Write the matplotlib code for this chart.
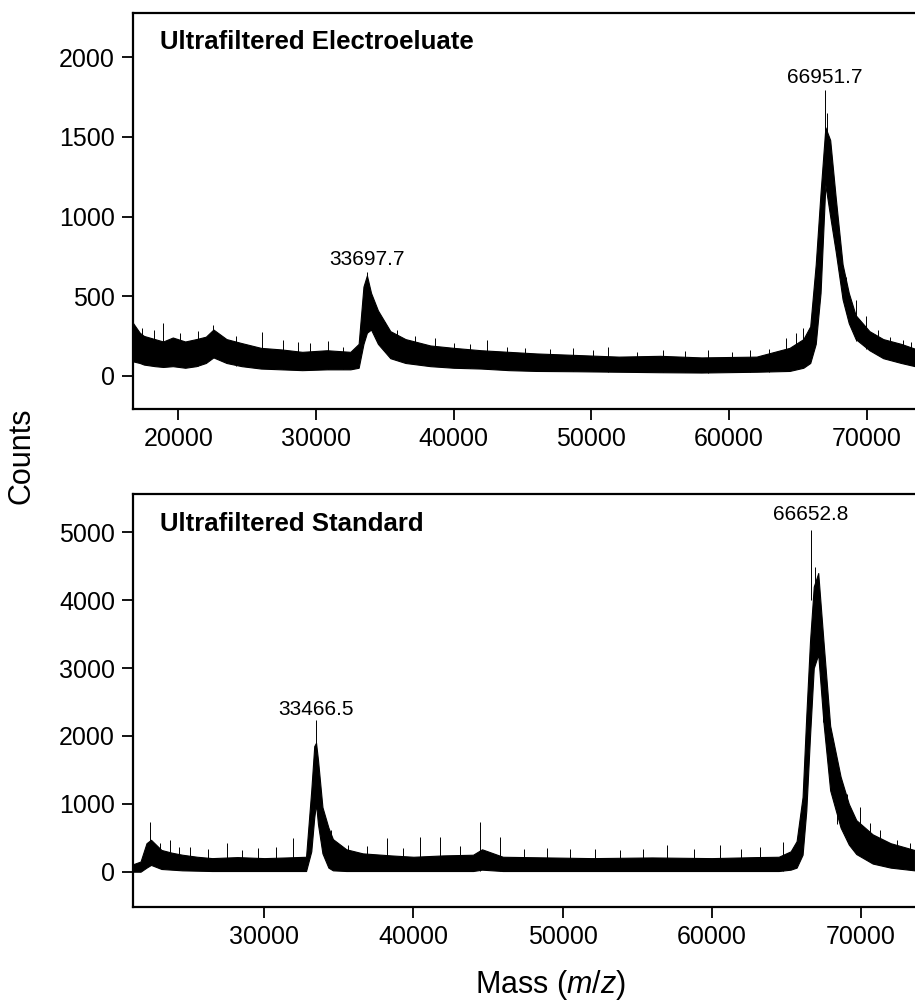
import matplotlib
matplotlib.use("Agg")
import matplotlib.pyplot as plt

plt.rcParams["font.family"] = ["Liberation Sans", "DejaVu Sans"]
plt.rcParams["mathtext.fontset"] = "custom"
plt.rcParams["mathtext.rm"] = "Liberation Sans"
plt.rcParams["mathtext.it"] = "Liberation Sans:italic"

# ---- top panel: ultrafiltered electroeluate (envelope of the noisy trace) ----
top_mass = [16720, 17200, 17500, 18300, 18900, 19600, 20500, 21300, 22000, 22550,
            23500, 24600, 26000, 27500, 29000, 30800, 32500, 33100, 33450, 33700,
            34000, 34500, 35400, 36500, 38300, 40000, 42000, 44000, 46000, 49000,
            52000, 55000, 58000, 62000, 64400, 65400, 65900, 66300, 66650, 67000,
            67350, 67750, 68250, 68700, 69200, 70200, 71200, 72500, 73500]
top_upper = [330, 270, 250, 230, 215, 240, 215, 230, 245, 290,
             230, 205, 175, 165, 150, 160, 150, 200, 560, 630,
             520, 410, 280, 230, 190, 175, 160, 150, 140, 130,
             120, 125, 115, 120, 175, 230, 310, 700, 1150, 1560,
             1480, 1120, 700, 520, 380, 280, 230, 200, 170]
top_lower = [90, 80, 70, 60, 55, 60, 50, 60, 80, 115,
             80, 60, 45, 40, 35, 40, 40, 50, 200, 270,
             290, 200, 110, 80, 60, 50, 45, 35, 30, 28,
             25, 22, 20, 25, 30, 50, 80, 200, 520, 1200,
             1000, 780, 480, 330, 230, 160, 110, 80, 60]
top_spike_mass = [16730, 17400, 18200, 18910, 20100, 21400, 22540, 24200, 26050, 27620,
                  28700, 29560, 30900, 31980, 33700, 35000, 35860, 37200, 38630, 40000,
                  41200, 42390, 43840, 45200, 47000, 48680, 50100, 51220, 53300, 55210,
                  56800, 58480, 60200, 61500, 62900, 64170, 64900, 65380, 66951.7, 67150,
                  68500, 69250, 69980, 70800, 71670, 72630, 73200]
top_spike_lo = [100, 80, 60, 60, 55, 60, 120, 60, 50, 45,
                40, 40, 40, 40, 300, 150, 110, 80, 60, 55,
                50, 45, 40, 35, 30, 30, 28, 25, 25, 25,
                22, 20, 22, 25, 25, 30, 45, 60, 1400, 1300,
                400, 220, 170, 130, 100, 80, 70]
top_spike_hi = [381, 300, 290, 330, 270, 280, 318, 250, 276, 224,
                210, 203, 215, 182, 653, 340, 287, 250, 234, 203,
                200, 224, 182, 175, 165, 174, 160, 182, 150, 160,
                155, 160, 150, 160, 165, 236, 270, 300, 1795, 1650,
                620, 477, 372, 290, 245, 224, 210]

# ---- bottom panel: ultrafiltered standard ----
bot_mass = [21200, 21700, 22100, 22400, 23100, 23800, 24500, 25500, 26500, 28200,
            30000, 31500, 32800, 33150, 33350, 33470, 33600, 33900, 34300, 34600,
            35500, 36600, 38500, 40000, 42000, 44000, 44600, 46000, 49000, 52000,
            56000, 60000, 63000, 64500, 65300, 65700, 66100, 66350, 66600, 66850,
            67150, 67500, 67950, 68650, 69200, 69700, 70800, 72000, 73600]
bot_upper = [110, 150, 420, 470, 320, 280, 250, 220, 200, 215,
             200, 210, 220, 1200, 1850, 1900, 1650, 950, 650, 480,
             330, 270, 240, 220, 240, 250, 330, 220, 210, 200,
             210, 200, 215, 220, 300, 450, 1100, 2300, 3400, 4200,
             4400, 3400, 2150, 1400, 1000, 760, 550, 420, 320]
bot_lower = [0, 0, 60, 100, 40, 30, 20, 15, 10, 10,
             10, 10, 10, 300, 800, 1000, 700, 270, 60, 20,
             10, 10, 10, 10, 10, 10, 30, 10, 10, 10,
             10, 10, 10, 10, 30, 60, 250, 900, 2000, 3000,
             3200, 2200, 1200, 650, 400, 260, 120, 60, 20]
bot_spike_mass = [22330, 23000, 23675, 24300, 25020, 26200, 27480, 28500, 29600, 30800,
                  31950, 33466.5, 34500, 35600, 36900, 38210, 39300, 40440, 41780, 43100,
                  44470, 45810, 47400, 48940, 50500, 52200, 53860, 55400, 56990, 58800,
                  60560, 62000, 63250, 64810, 66652.8, 66940, 67490, 68380, 69100, 69940,
                  70600, 71280, 72400, 73300]
bot_spike_lo = [100, 60, 40, 30, 20, 15, 10, 10, 10, 10,
                10, 1500, 80, 20, 10, 10, 10, 10, 10, 10,
                10, 10, 10, 10, 10, 10, 10, 10, 10, 10,
                10, 10, 10, 10, 4000, 3300, 2200, 700, 450, 250,
                150, 100, 60, 30]
bot_spike_hi = [737, 420, 467, 360, 368, 330, 418, 320, 344, 360,
                491, 2235, 620, 400, 380, 491, 350, 516, 516, 380,
                737, 516, 330, 344, 330, 340, 320, 330, 393, 340,
                393, 330, 368, 442, 5033, 4493, 3143, 1449, 1150, 957,
                720, 614, 467, 420]

top_labels = ["33697.7", "66951.7"]
top_label_mass = [33697.7, 66951.7]
top_label_y = [670, 1815]
bot_labels = ["33466.5", "66652.8"]
bot_label_mass = [33466.5, 66652.8]
bot_label_y = [2250, 5120]


def style_axis(ax):
    for side in ["left", "bottom", "top"]:
        ax.spines[side].set_linewidth(1.6)
    ax.spines["right"].set_visible(False)
    ax.tick_params(axis="both", direction="out", length=8, width=1.3,
                   labelsize=18, pad=5)


fig = plt.figure(figsize=(9.15, 10.05), dpi=100)
ax1 = fig.add_axes([133 / 915, 1 - 409 / 1005, 782 / 915, 395.5 / 1005])
ax2 = fig.add_axes([133 / 915, 1 - 907 / 1005, 782 / 915, 413 / 1005])

ax1.fill_between(top_mass, top_lower, top_upper, color="black", lw=0.8)
ax1.vlines(top_spike_mass, top_spike_lo, top_spike_hi, color="black", lw=0.7)
ax1.set_xlim(16710, 73510)
ax1.set_ylim(-209, 2275)
ax1.set_xticks([20000, 30000, 40000, 50000, 60000, 70000])
ax1.set_yticks([0, 500, 1000, 1500, 2000])
style_axis(ax1)
ax1.text(0.0345, 0.958, "Ultrafiltered Electroeluate", transform=ax1.transAxes,
         fontsize=18.5, fontweight="bold", ha="left", va="top")
for lab, m, y in zip(top_labels, top_label_mass, top_label_y):
    ax1.text(m, y, lab, ha="center", va="bottom", fontsize=15)

ax2.fill_between(bot_mass, bot_lower, bot_upper, color="black", lw=0.8)
ax2.vlines(bot_spike_mass, bot_spike_lo, bot_spike_hi, color="black", lw=0.7)
ax2.set_xlim(21194, 73640)
ax2.set_ylim(-520, 5564)
ax2.set_xticks([30000, 40000, 50000, 60000, 70000])
ax2.set_yticks([0, 1000, 2000, 3000, 4000, 5000])
style_axis(ax2)
ax2.text(0.0345, 0.956, "Ultrafiltered Standard", transform=ax2.transAxes,
         fontsize=18.5, fontweight="bold", ha="left", va="top")
for lab, m, y in zip(bot_labels, bot_label_mass, bot_label_y):
    ax2.text(m, y, lab, ha="center", va="bottom", fontsize=15)

fig.text(22 / 915, 1 - 456 / 1005, "Counts", rotation=90, ha="center", va="center",
         fontsize=22)
fig.text(551 / 915, 1 - 985 / 1005, r"Mass $\mathit{(m/z)}$", ha="center", va="center",
         fontsize=22)

fig.savefig("out.png", dpi=100)
